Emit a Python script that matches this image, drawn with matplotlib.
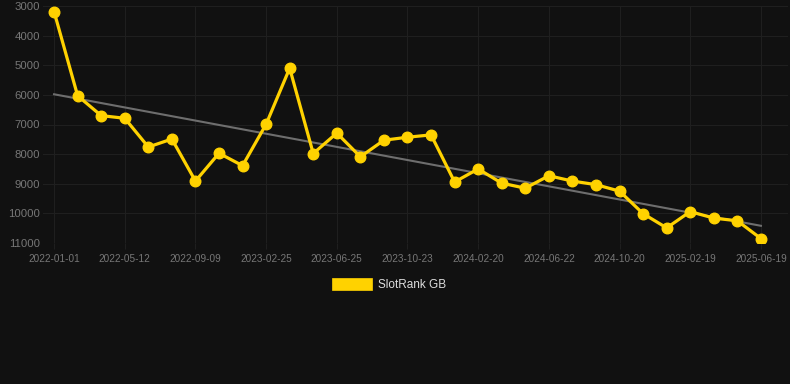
import matplotlib
matplotlib.use("Agg")
import matplotlib.pyplot as plt
import numpy as np

# fechas de los ticks (cada 3 puntos) y valores de rango
tick_labels = ["2022-01-01", "2022-05-12", "2022-09-09", "2023-02-25", "2023-06-25",
               "2023-10-23", "2024-02-20", "2024-06-22", "2024-10-20", "2025-02-19",
               "2025-06-19"]
rank = [3190, 6030, 6700, 6790, 7760, 7490, 8910, 7970, 8390, 6990,
        5100, 7980, 7290, 8090, 7530, 7430, 7350, 8940, 8500, 8980,
        9150, 8730, 8910, 9030, 9250, 10010, 10490, 9940, 10160, 10250,
        10850]
series_name = "SlotRank GB"

W, H = 790, 384
fig = plt.figure(figsize=(W / 100, H / 100), dpi=100)
fig.patch.set_facecolor("#111111")

# area del grafico en pixeles
left, right, top, bottom = 43, 788, 6, 243
ax = fig.add_axes([left / W, 1 - bottom / H, (right - left) / W, (bottom - top) / H])
ax.set_facecolor("#111111")

x = np.arange(len(rank))
y = np.array(rank)

# linea de tendencia (regresion lineal)
a, b = np.polyfit(x, y, 1)
ax.plot(x, a * x + b, color="#6e6e6e", lw=1.5, zorder=2)

ax.plot(x, y, color="#ffd200", lw=2.3, marker="o", markersize=7.6,
        markerfacecolor="#ffd200", markeredgecolor="#ffd200", zorder=3)

ax.set_xlim(-0.47, 31.15)
ax.set_ylim(11000, 3000)
ax.set_yticks(range(3000, 11001, 1000))
ax.set_xticks(x[::3])
ax.set_xticklabels(tick_labels)

ax.grid(True, color="#1f1f1f", lw=0.8, zorder=0)
for s in ax.spines.values():
    s.set_visible(False)
ax.tick_params(axis="y", length=0, pad=2, labelsize=8.2, labelcolor="#777777")
ax.tick_params(axis="x", length=4, color="#1f1f1f", pad=4, labelsize=7.2, labelcolor="#777777")
for t in ax.get_xticklabels() + ax.get_yticklabels():
    t.set_fontfamily(["Liberation Sans", "DejaVu Sans"])

# leyenda
fig.patches.append(plt.Rectangle((332 / W, 1 - 290 / H), 40 / W, 12 / H,
                                 transform=fig.transFigure, facecolor="#ffd200",
                                 edgecolor="#ffd200", lw=0.5))
fig.text(378 / W, 1 - 285 / H, series_name, color="#dddddd", fontsize=8.5,
         va="center", ha="left", family=["Liberation Sans", "DejaVu Sans"])

fig.savefig("out.png", dpi=100, facecolor=fig.get_facecolor())
